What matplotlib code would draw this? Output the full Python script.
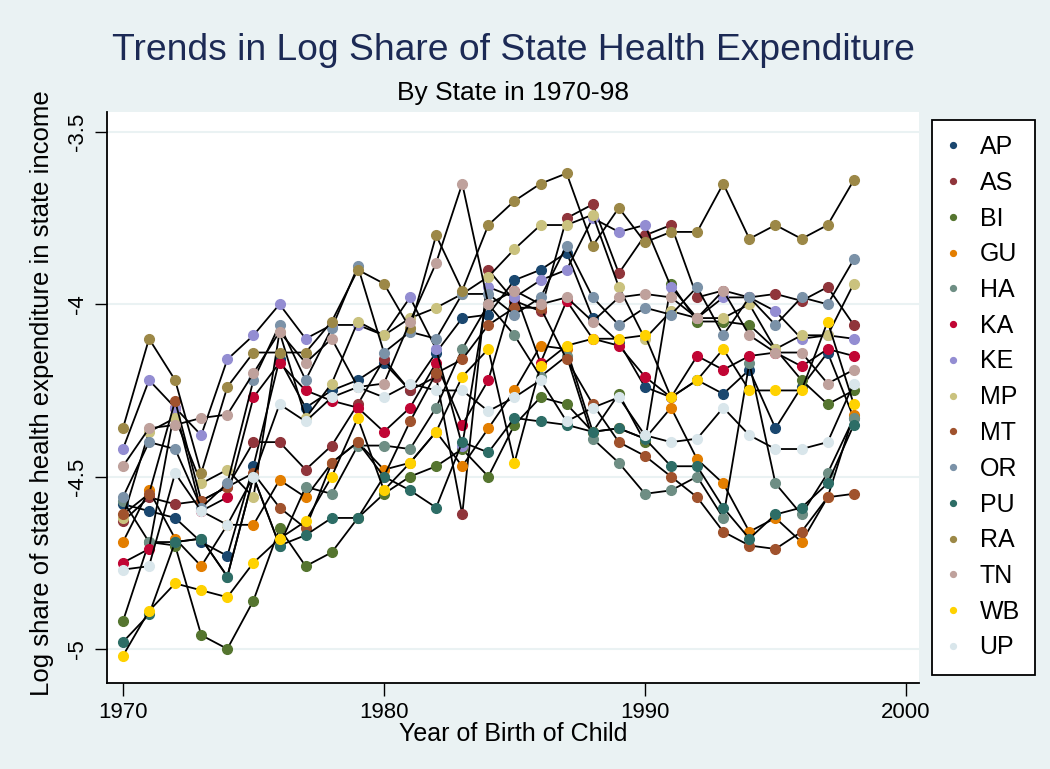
import numpy as np
import matplotlib.pyplot as plt

plt.rcParams['font.family'] = ['Liberation Sans', 'DejaVu Sans']

years = list(range(1970, 1999))

states = ['AP', 'AS', 'BI', 'GU', 'HA', 'KA', 'KE', 'MP', 'MT', 'OR', 'PU', 'RA', 'TN', 'WB', 'UP']

colors = ['#1a476f', '#90353b', '#55752f', '#e37e00', '#6e8e84', '#c10534', '#938dd2', '#cac27e',
          '#a0522d', '#7b92a8', '#2d6d66', '#9c8847', '#bfa19c', '#ffd200', '#d9e6eb']

# log share of state health expenditure, 1970-1998
AP = [-4.58, -4.60, -4.62, -4.69, -4.73, -4.47, -4.16, -4.30, -4.25, -4.22, -4.17, -4.25, -4.14, -4.04, -4.03,
      -3.93, -3.90, -3.85, -4.04, -4.11, -4.24, -4.27, -4.22, -4.26, -4.19, -4.36, -4.24, -4.14, -4.33]
AS = [-4.63, -4.56, -4.58, -4.57, -4.53, -4.40, -4.40, -4.48, -4.41, -4.29, -4.16, -4.25, -4.21, -4.61, -3.90,
      -3.99, -4.02, -3.75, -3.71, -3.91, -3.80, -3.77, -3.98, -3.96, -3.98, -3.97, -3.99, -3.95, -4.06]
BI = [-4.92, -4.69, -4.70, -4.96, -5.00, -4.86, -4.65, -4.76, -4.72, -4.62, -4.55, -4.50, -4.47, -4.42, -4.50,
      -4.35, -4.27, -4.29, -4.37, -4.26, -4.40, -3.94, -4.05, -4.05, -4.06, -4.13, -4.22, -4.29, -4.25]
GU = [-4.69, -4.54, -4.68, -4.76, -4.64, -4.64, -4.51, -4.56, -4.46, -4.40, -4.48, -4.46, -4.37, -4.47, -4.36,
      -4.25, -4.12, -4.13, -4.37, -4.36, -4.39, -4.30, -4.45, -4.52, -4.66, -4.62, -4.69, -4.56, -4.32]
HA = [-4.57, -4.69, -4.69, -4.68, -4.79, -4.50, -4.70, -4.53, -4.55, -4.41, -4.41, -4.42, -4.30, -4.13, -4.00,
      -4.09, -4.21, -4.15, -4.39, -4.46, -4.55, -4.54, -4.50, -4.62, -4.17, -4.52, -4.61, -4.49, -4.33]
KA = [-4.75, -4.71, -4.30, -4.60, -4.56, -4.27, -4.17, -4.25, -4.28, -4.30, -4.37, -4.30, -4.17, -4.35, -4.22,
      -3.96, -4.17, -3.99, -4.10, -4.12, -4.21, -4.27, -4.15, -4.19, -4.15, -4.14, -4.18, -4.13, -4.15]
KE = [-4.42, -4.22, -4.30, -4.38, -4.16, -4.09, -4.00, -4.10, -4.06, -4.06, -4.09, -3.98, -4.13, -4.41, -3.95,
      -3.98, -3.93, -3.90, -3.75, -3.79, -3.77, -3.95, -4.04, -3.98, -3.98, -4.02, -4.10, -4.09, -4.10]
MP = [-4.62, -4.37, -4.33, -4.52, -4.48, -4.56, -4.08, -4.33, -4.23, -4.05, -4.09, -4.04, -4.01, -3.97, -3.92,
      -3.84, -3.77, -3.77, -3.74, -3.95, -4.10, -4.02, -4.04, -4.04, -4.00, -4.13, -4.09, -4.09, -3.94]
MT = [-4.61, -4.55, -4.28, -4.57, -4.53, -4.49, -4.59, -4.65, -4.46, -4.40, -4.50, -4.34, -4.20, -4.16, -4.06,
      -4.01, -4.01, -4.16, -4.29, -4.40, -4.44, -4.50, -4.56, -4.66, -4.70, -4.71, -4.66, -4.56, -4.55]
OR = [-4.56, -4.40, -4.42, -4.59, -4.52, -4.22, -4.06, -4.22, -4.07, -3.89, -4.14, -4.08, -4.10, -3.97, -3.97,
      -4.03, -3.98, -3.83, -3.98, -4.06, -4.01, -4.03, -3.95, -4.09, -3.98, -4.06, -3.98, -4.00, -3.87]
PU = [-4.98, -4.90, -4.69, -4.68, -4.79, -4.50, -4.70, -4.67, -4.62, -4.62, -4.50, -4.54, -4.59, -4.40, -4.43,
      -4.33, -4.34, -4.35, -4.37, -4.36, -4.39, -4.47, -4.47, -4.59, -4.68, -4.61, -4.59, -4.52, -4.35]
RA = [-4.36, -4.10, -4.22, -4.49, -4.24, -4.14, -4.14, -4.14, -4.05, -3.90, -3.94, -4.07, -3.80, -3.96, -3.77,
      -3.70, -3.65, -3.62, -3.83, -3.72, -3.82, -3.79, -3.79, -3.65, -3.81, -3.77, -3.81, -3.77, -3.64]
TN = [-4.47, -4.36, -4.35, -4.33, -4.32, -4.20, -4.08, -4.17, -4.10, -4.24, -4.23, -4.05, -3.88, -3.65, -4.00,
      -3.96, -4.00, -3.98, -4.05, -3.98, -3.97, -3.98, -4.04, -3.96, -4.09, -4.14, -4.14, -4.23, -4.19]
WB = [-5.02, -4.89, -4.81, -4.83, -4.85, -4.75, -4.68, -4.63, -4.50, -4.33, -4.54, -4.46, -4.37, -4.21, -4.13,
      -4.46, -4.18, -4.12, -4.10, -4.10, -4.09, -4.27, -4.22, -4.13, -4.25, -4.25, -4.25, -4.05, -4.29]
UP = [-4.77, -4.76, -4.49, -4.60, -4.64, -4.50, -4.29, -4.34, -4.27, -4.24, -4.27, -4.23, -4.25, -4.25, -4.31,
      -4.27, -4.22, -4.34, -4.30, -4.27, -4.38, -4.40, -4.39, -4.30, -4.38, -4.42, -4.42, -4.40, -4.23]

series = [AP, AS, BI, GU, HA, KA, KE, MP, MT, OR, PU, RA, TN, WB, UP]

bg = '#eaf2f3'
fig = plt.figure(figsize=(10.5, 7.69), dpi=100, facecolor=bg)
ax = fig.add_axes([107/1050, 1 - 683/769, (919 - 107)/1050, (683 - 112)/769])
ax.set_facecolor('white')

for name, vals, c in zip(states, series, colors):
    ax.plot(years, vals, color='black', lw=1.3, marker='o', ms=7, mfc=c, mec=c, label=name)

ax.set_xlim(1969.39, 2000.5)
ax.set_ylim(-5.099, -3.442)
ax.set_xticks([1970, 1980, 1990, 2000])
ax.set_yticks([-5, -4.5, -4, -3.5])
ax.set_yticklabels(['-5', '-4.5', '-4', '-3.5'], rotation=90, va='center')
ax.tick_params(labelsize=16, length=9, width=1, pad=5)
ax.yaxis.grid(True, color=bg, lw=1.5)
ax.set_axisbelow(True)
for s in ['top', 'right']:
    ax.spines[s].set_visible(False)
for s in ['left', 'bottom']:
    ax.spines[s].set_linewidth(1.3)

fig.text(513/1050, 1 - 50/769, 'Trends in Log Share of State Health Expenditure',
         ha='center', va='center', fontsize=26.8, color='#1c2a55')
fig.text(513/1050, 1 - 93/769, 'By State in 1970-98', ha='center', va='center', fontsize=19)
fig.text(513/1050, 1 - 734/769, 'Year of Birth of Child', ha='center', va='center', fontsize=18)
fig.text(42/1050, 1 - 393/769, 'Log share of state health expenditure in state income',
         ha='center', va='center', rotation=90, fontsize=18.5)

leg = fig.legend(loc='upper left', bbox_to_anchor=(932/1050, 1 - 120/769), fontsize=18,
                 frameon=True, fancybox=False, edgecolor='black', framealpha=1,
                 handlelength=0.5, handletextpad=0.8, labelspacing=0.47, borderpad=0.6,
                 borderaxespad=0, markerscale=0.6)
for h in leg.legend_handles:
    h.set_linestyle('none')
leg.get_frame().set_linewidth(1.3)

plt.savefig('out.png', dpi=100, facecolor=bg)
